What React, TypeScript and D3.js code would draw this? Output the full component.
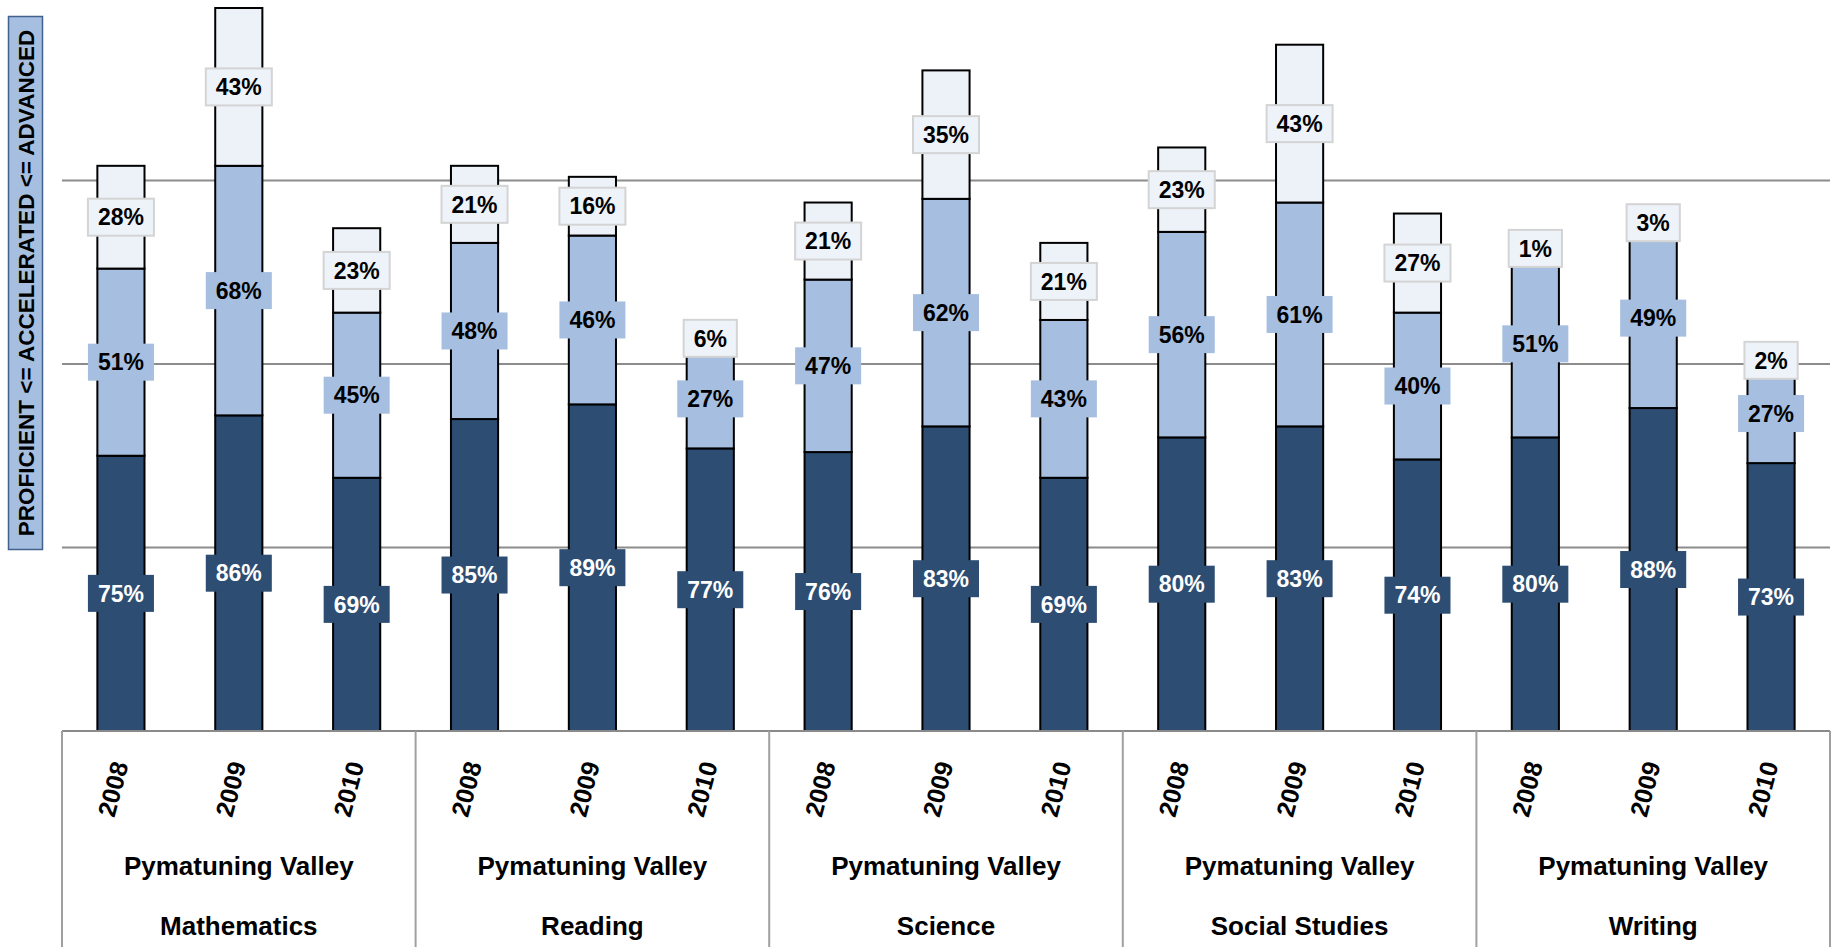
import React from "react";
import * as d3 from "d3";

const subjects = ["Mathematics", "Reading", "Science", "Social Studies", "Writing"];
const years = ["2008", "2009", "2010"];
const district = "Pymatuning Valley";
// values per bar, ordered subject by subject, years 2008..2010
const proficient = [75, 86, 69, 85, 89, 77, 76, 83, 69, 80, 83, 74, 80, 88, 73];
const accelerated = [51, 68, 45, 48, 46, 27, 47, 62, 43, 56, 61, 40, 51, 49, 27];
const advanced = [28, 43, 23, 21, 16, 6, 21, 35, 21, 23, 43, 27, 1, 3, 2];
const gridTicks = [50, 100, 150];
const yAxisTitle = "PROFICIENT <= ACCELERATED <= ADVANCED";

const W = 1837;
const H = 947;
const FONT = "'Liberation Sans', Arial, Helvetica, sans-serif";
const C_DARK = "#2d4d73";
const C_MID = "#a6bedf";
const C_LIGHT = "#edf1f8";

let ctx: CanvasRenderingContext2D | null = null;
function textWidth(t: string, size: number) {
  if (!ctx) ctx = document.createElement("canvas").getContext("2d");
  if (!ctx) return t.length * size * 0.6;
  ctx.font = `bold ${size}px ${FONT}`;
  return ctx.measureText(t).width;
}

export default function App() {
  const rows = subjects.flatMap((s, si) =>
    years.map((y, yi) => {
      const i = si * 3 + yi;
      return {
        key: `${s}|${y}`,
        subject: s,
        year: y,
        proficient: proficient[i],
        accelerated: accelerated[i],
        advanced: advanced[i],
      };
    })
  );
  const keys = ["proficient", "accelerated", "advanced"];
  const stacked = d3.stack<any>().keys(keys)(rows);

  const x0 = 62;
  const x1 = 1830;
  const base = 731;
  const x = d3
    .scaleBand<string>()
    .domain(rows.map((r) => r.key))
    .range([x0, x1])
    .paddingInner(0.6)
    .paddingOuter(0.3);
  const y = d3.scaleLinear().domain([0, 200]).range([base, base - 734]);
  const step = x.step();

  const fills = [C_DARK, C_MID, C_LIGHT];
  const labelFill = [C_DARK, C_MID, "#eef2f9"];
  const labelText = ["#ffffff", "#000000", "#000000"];
  const labelStroke = ["none", "none", "#d4d4d4"];
  const LS = 23;

  return (
    <div style={{ position: "absolute", left: 0, top: 0, width: W, height: H, overflow: "hidden", background: "#fff" }}>
      <svg width={W} height={H} style={{ display: "block", fontFamily: FONT }}>
        <rect x={0} y={0} width={W} height={H} fill="#ffffff" />
        {/* gridlines */}
        {gridTicks.map((t) => (
          <line key={t} x1={x0} x2={x1} y1={y(t)} y2={y(t)} stroke="#8c8c8c" strokeWidth={2} />
        ))}
        {/* bars */}
        {stacked.map((layer, li) =>
          layer.map((d, i) => (
            <rect
              key={`${li}-${i}`}
              x={x(rows[i].key)}
              y={y(d[1])}
              width={x.bandwidth()}
              height={y(d[0]) - y(d[1])}
              fill={fills[li]}
              stroke="#000"
              strokeWidth={2}
            />
          ))
        )}
        {/* category axis box */}
        <line x1={x0} x2={x1} y1={base} y2={base} stroke="#8a8a8a" strokeWidth={2} />
        {d3.range(subjects.length + 1).map((g) => {
          const gx = x0 + g * 3 * step;
          return <line key={g} x1={gx} x2={gx} y1={base} y2={H} stroke="#a0a0a0" strokeWidth={2} />;
        })}
        {/* year labels */}
        {rows.map((r) => {
          const cx = (x(r.key) as number) + x.bandwidth() / 2 - 8;
          return (
            <text
              key={r.key}
              transform={`translate(${cx},789) rotate(-75)`}
              textAnchor="middle"
              dy="0.35em"
              fontWeight="bold"
              fontSize={25}
              fill="#000"
            >
              {r.year}
            </text>
          );
        })}
        {/* group labels */}
        {subjects.map((s, g) => {
          const gx = x0 + (g + 0.5) * 3 * step;
          return (
            <g key={s}>
              <text x={gx} y={875} textAnchor="middle" fontWeight="bold" fontSize={26} fill="#000">
                {district}
              </text>
              <text x={gx} y={935} textAnchor="middle" fontWeight="bold" fontSize={26} fill="#000">
                {s}
              </text>
            </g>
          );
        })}
        {/* data labels */}
        {stacked.map((layer, li) =>
          layer.map((d, i) => {
            const v = d[1] - d[0];
            const t = `${v}%`;
            const cx = (x(rows[i].key) as number) + x.bandwidth() / 2;
            const cy = (y(d[0]) + y(d[1])) / 2;
            const w = textWidth(t, LS) + 20;
            const h = 37;
            return (
              <g key={`l${li}-${i}`}>
                <rect
                  x={cx - w / 2}
                  y={cy - h / 2}
                  width={w}
                  height={h}
                  fill={labelFill[li]}
                  stroke={labelStroke[li]}
                  strokeWidth={2}
                />
                <text x={cx} y={cy} dy="0.36em" textAnchor="middle" fontWeight="bold" fontSize={LS} fill={labelText[li]}>
                  {t}
                </text>
              </g>
            );
          })
        )}
        {/* y axis title */}
        <rect x={8.5} y={16.5} width={34} height={533} fill={C_MID} stroke="#41628f" strokeWidth={1.5} />
        <text
          transform={`translate(25.5,283) rotate(-90)`}
          textAnchor="middle"
          dy="0.36em"
          fontWeight="bold"
          fontSize={22.5}
          fill="#000"
        >
          {yAxisTitle}
        </text>
      </svg>
    </div>
  );
}
